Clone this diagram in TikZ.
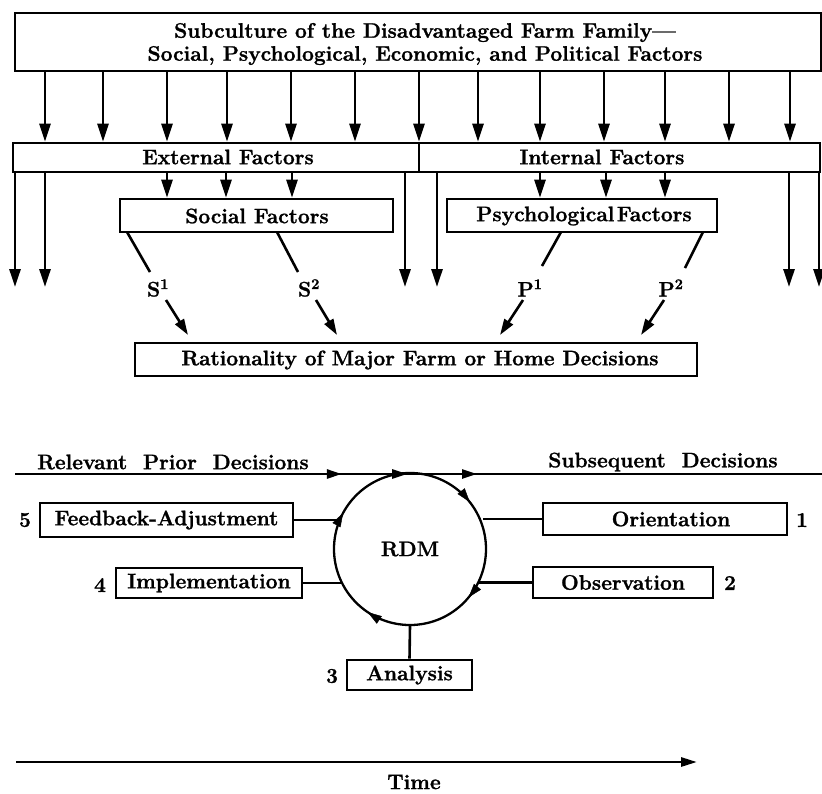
\documentclass[tikz,border=0pt]{standalone}
\usepackage{fontspec}
\setmainfont{Latin Modern Roman}[BoldFeatures={FakeBold=1.2}]
\usetikzlibrary{arrows.meta,decorations.markings}
\begin{document}
\begin{tikzpicture}[x=1pt,y=-1pt,
  txt/.style={font=\fontsize{21}{23}\selectfont\bfseries, inner sep=0pt, align=center},
  box/.style={draw, line width=2.6pt, inner sep=0pt},
  ln/.style={line width=2.6pt},
  arr/.style={line width=2.8pt, -{Triangle[length=18pt,width=11pt]}},
  sarr/.style={line width=2.6pt, -{Triangle[length=16pt,width=10pt]}},
  circarrow/.style={decoration={markings,
     mark=at position 0.106 with {\arrowreversed{Triangle[length=14pt,width=9pt]}},
     mark=at position 0.421 with {\arrowreversed{Triangle[length=14pt,width=9pt]}},
     mark=at position 0.656 with {\arrowreversed{Triangle[length=14pt,width=9pt]}},
     mark=at position 0.89 with {\arrowreversed{Triangle[length=14pt,width=9pt]}}}},
  linearrow/.style={decoration={markings,
     mark=at position 0.405 with {\arrow{Triangle[length=15pt,width=9pt]}},
     mark=at position 0.486 with {\arrow{Triangle[length=15pt,width=9pt]}},
     mark=at position 0.5725 with {\arrow{Triangle[length=15pt,width=9pt]}}}}
]
\useasboundingbox (0,0) rectangle (822,793);

% top box
\node[box, minimum width=806pt, minimum height=58pt] (top) at (418,42) {};
\node[txt] (toptxt) at (425,44) {Subculture of the Disadvantaged Farm Family---\\Social, Psychological, Economic, and Political Factors};

% external / internal
\node[box, minimum width=406pt, minimum height=29pt] (ext) at (216,157.5) {};
\node[box, minimum width=401pt, minimum height=29pt] (int) at (619.5,157.5) {};
\node[txt] (exttxt) at (228,157) {External Factors};
\node[txt] (inttxt) at (602,157) {Internal Factors};

% arrows from top box
\foreach \x in {45,103,167,227,291,355,419,478,540,604,665,729,790}
  \draw[arr] (top.south -| \x,0) -- (ext.north -| \x,0);

% social / psychological boxes
\node[box, minimum width=273pt, minimum height=33pt] (soc) at (256.5,215.5) {};
\node[txt] (soctxt) at (257,216) {Social Factors};
\node[box, minimum width=270pt, minimum height=33pt] (psy) at (582,215.5) {};
\node[txt] (psytxt) at (584,216) {Psychological\hspace{0.12em}Factors};

% long arrows
\coordinate (low) at (0,287);
\foreach \x in {15,45,405}
  \draw[arr] (ext.south -| \x,0) -- (low -| \x,0);
\foreach \x in {437,789,819}
  \draw[arr] (int.south -| \x,0) -- (low -| \x,0);

% short arrows
\foreach \x in {167,226,292}
  \draw[arr] (ext.south -| \x,0) -- (soc.north -| \x,0);
\foreach \x in {540,606,665}
  \draw[arr] (int.south -| \x,0) -- (psy.north -| \x,0);

% S and P labels
\node[txt] (S1) at (158,288) {S\textsuperscript{1}};
\node[txt] (S2) at (309,288) {S\textsuperscript{2}};
\node[txt] (P1) at (530,288) {P\textsuperscript{1}};
\node[txt] (P2) at (671,288) {P\textsuperscript{2}};

\coordinate (s1a) at (127,232); \coordinate (s1b) at (150,272);
\coordinate (s2a) at (277,232); \coordinate (s2b) at (298,272);
\coordinate (p1a) at (561,232); \coordinate (p1b) at (542,266);
\coordinate (p2a) at (703,232); \coordinate (p2b) at (685,268);
\draw[ln] (s1a) -- (s1b);
\draw[ln] (s2a) -- (s2b);
\draw[ln] (p1a) -- (p1b);
\draw[ln] (p2a) -- (p2b);

% rationality box
\node[box, minimum width=562pt, minimum height=33pt] (rat) at (416,359.5) {};
\node[txt] (rattxt) at (420,360) {Rationality of Major Farm or Home Decisions};

\coordinate (s1c) at (166,300); \coordinate (s1d) at (188,335);
\coordinate (s2c) at (316,300); \coordinate (s2d) at (337,335);
\coordinate (p1c) at (523,300); \coordinate (p1d) at (500,335);
\coordinate (p2c) at (664,300); \coordinate (p2d) at (641,335);
\draw[sarr] (s1c) -- (s1d);
\draw[sarr] (s2c) -- (s2d);
\draw[sarr] (p1c) -- (p1d);
\draw[sarr] (p2c) -- (p2d);

% decisions line
\node[txt] (prior) at (173,462) {Relevant\ \ Prior\ \ Decisions};
\node[txt] (subs) at (663,462) {Subsequent\ \ Decisions};
\coordinate (hl) at (15,474);
\coordinate (hr) at (822,474);
\draw[ln, postaction={decorate}, linearrow] (hl) -- (hr);

% RDM circle
\node[circle, draw, line width=2.3pt, minimum size=152pt, inner sep=0pt, txt] (rdm) at (410,549) {RDM};
\path[postaction={decorate}, circarrow] (410,549) circle[radius=76pt];

% step boxes
\node[box, txt, minimum width=253pt, minimum height=34pt] (fb) at (166.5,520) {Feedback-Adjustment};
\node[box, txt, minimum width=186pt, minimum height=30pt] (impl) at (209,583) {Implementation};
\node[box, minimum width=244pt, minimum height=32pt] (ori) at (665,519) {};
\node[txt] (oritxt) at (671,519) {Orientation};
\node[box, txt, minimum width=180pt, minimum height=31pt] (obs) at (623,582.5) {Observation};
\node[box, txt, minimum width=125pt, minimum height=30pt] (ana) at (409.5,675) {Analysis};

\node[txt] (n5) at (25,520) {5};
\node[txt] (n4) at (100,585) {4};
\node[txt] (n1) at (802,520) {1};
\node[txt] (n2) at (730,583) {2};
\node[txt] (n3) at (332,676) {3};

\draw[ln] (fb.east) -- (fb.east -| rdm.160);
\draw[ln] (impl.east) -- (impl.east -| rdm.208);
\draw[ln] (ori.west) -- (ori.west -| rdm.20);
\draw[ln] (obs.west) -- (obs.west -| rdm.332);
\draw[ln] (ana.north) -- (rdm.south);

% time
\coordinate (t0) at (16,762);
\coordinate (t1) at (697,762);
\draw[line width=2.8pt, -{Triangle[length=16pt,width=9pt]}] (t0) -- (t1);
\node[txt] (time) at (414,782) {Time};
\end{tikzpicture}
\end{document}
